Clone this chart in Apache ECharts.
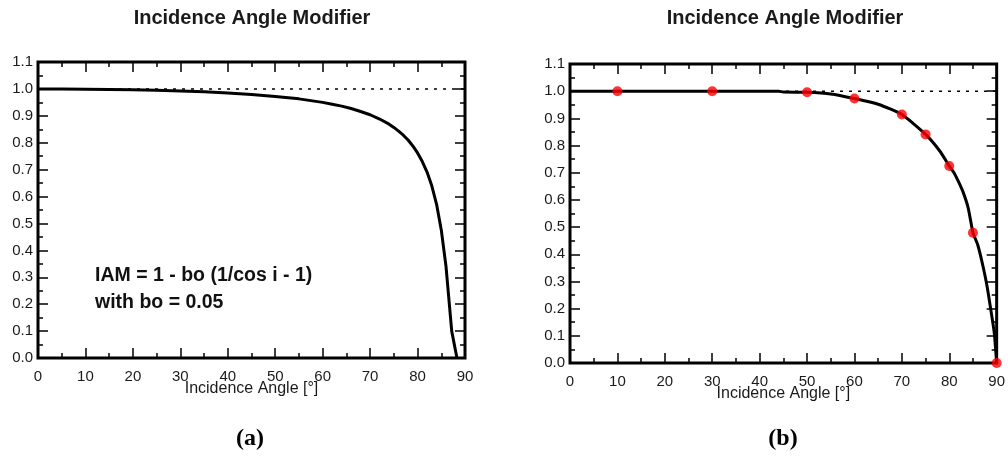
<!DOCTYPE html>
<html>
<head>
<meta charset="utf-8">
<script src="https://cdn.jsdelivr.net/npm/echarts@6/dist/echarts.min.js"></script>
<style>
html,body{margin:0;padding:0;background:#fff;}
#c{width:1008px;height:457px;}
</style>
</head>
<body>
<div id="c"></div>
<script>
// ---- data ----
const titleText = 'Incidence Angle Modifier';
const xAxisName = 'Incidence Angle [°]';
const panelLabels = ['(a)', '(b)'];
const formulaLines = ['IAM = 1 - bo (1/cos i - 1)', 'with bo = 0.05'];

const xTicks = [0, 10, 20, 30, 40, 50, 60, 70, 80, 90];
const yTicks = [0.0, 0.1, 0.2, 0.3, 0.4, 0.5, 0.6, 0.7, 0.8, 0.9, 1.0, 1.1];

// panel (a): IAM curve
const anglesA = [0, 5, 10, 15, 20, 25, 30, 35, 40, 45, 50, 55, 60, 62, 64, 66, 68, 70, 72, 74, 75, 76, 77, 78, 79, 80, 81, 82, 83, 84, 85, 86, 87.2, 88.3];
const iamA = [1.000, 1.000, 0.999, 0.998, 0.997, 0.995, 0.992, 0.989, 0.985, 0.979, 0.972, 0.963, 0.950, 0.943, 0.936, 0.927, 0.916, 0.904, 0.888, 0.869, 0.857, 0.843, 0.828, 0.810, 0.788, 0.762, 0.730, 0.691, 0.640, 0.572, 0.476, 0.340, 0.100, 0.000];

// panel (b): IAM curve and measured points
const anglesB = [0, 10, 20, 30, 40, 44, 45, 50, 55, 60, 65, 70, 75, 78, 80, 81, 82, 83, 84, 85, 86, 87, 88, 89, 89.5, 90];
const iamB = [1.000, 1.000, 1.000, 1.000, 1.000, 1.000, 0.997, 0.996, 0.990, 0.973, 0.952, 0.914, 0.841, 0.780, 0.725, 0.700, 0.665, 0.625, 0.570, 0.480, 0.435, 0.365, 0.280, 0.170, 0.110, 0.000];
const pointAngles = [10, 30, 50, 60, 70, 75, 80, 85, 90];
const pointIam = [1.000, 1.000, 0.996, 0.973, 0.914, 0.841, 0.725, 0.479, 0.000];

// reference level
const refLevel = 1.0;

// ---- chart ----
const FONT = "'Liberation Sans', Arial, sans-serif";
const zip = (a, b) => a.map((v, i) => [v, b[i]]);

const grids = [
  {left: 38, top: 62, width: 427, height: 296},
  {left: 570, top: 64, width: 427, height: 299}
];

const tickStyle = {
  axisLine: {show: false, onZero: false},
  axisTick: {show: true, inside: true, length: 10, lineStyle: {color: '#000', width: 1.5}},
  minorTick: {show: true, splitNumber: 2, length: 5, lineStyle: {color: '#000', width: 1.5}},
  splitLine: {show: false},
  minorSplitLine: {show: false}
};

function xAxes(gi) {
  const base = Object.assign({
    type: 'value', gridIndex: gi,
    min: xTicks[0], max: xTicks[xTicks.length - 1], interval: xTicks[1] - xTicks[0]
  }, tickStyle);
  return [
    Object.assign({}, base, {
      position: 'bottom',
      name: xAxisName, nameLocation: 'middle', nameGap: 23, nameMoveOverlap: false,
      nameTextStyle: {fontFamily: FONT, fontSize: 16, color: '#1a1a1a', verticalAlign: 'top'},
      axisLabel: {show: true, margin: 11, fontFamily: FONT, fontSize: 15, color: '#1a1a1a'}
    }),
    Object.assign({}, base, {position: 'top', axisLabel: {show: false}})
  ];
}
function yAxes(gi) {
  const base = Object.assign({
    type: 'value', gridIndex: gi,
    min: yTicks[0], max: yTicks[yTicks.length - 1], interval: 0.1
  }, tickStyle);
  return [
    Object.assign({}, base, {
      position: 'left',
      axisLabel: {show: true, margin: 5, fontFamily: FONT, fontSize: 15, color: '#1a1a1a',
        formatter: v => Number(v).toFixed(1)}
    }),
    Object.assign({}, base, {position: 'right', axisLabel: {show: false}})
  ];
}

const chart = echarts.init(document.getElementById('c'), null, {renderer: 'canvas'});

const dotted = {color: '#000', width: 1.5, type: [3, 6]};
const option = {
  animation: false,
  backgroundColor: '#fff',
  grid: grids.map(g => Object.assign({show: true, borderColor: '#000', borderWidth: 3, backgroundColor: 'transparent'}, g)),
  xAxis: [...xAxes(0), ...xAxes(1)],
  yAxis: [...yAxes(0), ...yAxes(1)],
  series: [
    {type: 'line', xAxisIndex: 0, yAxisIndex: 0, data: [[xTicks[0], refLevel], [xTicks[xTicks.length - 1], refLevel]],
      symbol: 'none', lineStyle: dotted, z: 1, silent: true},
    {type: 'line', xAxisIndex: 0, yAxisIndex: 0, data: zip(anglesA, iamA),
      symbol: 'none', lineStyle: {color: '#000', width: 3}, z: 2},
    {type: 'line', xAxisIndex: 2, yAxisIndex: 2, data: [[xTicks[0], refLevel], [xTicks[xTicks.length - 1], refLevel]],
      symbol: 'none', lineStyle: dotted, z: 1, silent: true},
    {type: 'line', xAxisIndex: 2, yAxisIndex: 2, data: zip(anglesB, iamB), smooth: 0.2,
      symbol: 'none', lineStyle: {color: '#000', width: 3}, z: 2},
    {type: 'scatter', xAxisIndex: 2, yAxisIndex: 2, data: zip(pointAngles, pointIam),
      symbol: 'circle', symbolSize: 10, itemStyle: {color: '#ff0000'}, clip: false, z: 3}
  ],
  graphic: [
    {type: 'text', style: {text: titleText, x: 252, y: 18, align: 'center', verticalAlign: 'middle',
      font: "bold 20px " + FONT, fill: '#1a1a1a'}, z: 10},
    {type: 'text', style: {text: titleText, x: 785, y: 18, align: 'center', verticalAlign: 'middle',
      font: "bold 20px " + FONT, fill: '#1a1a1a'}, z: 10},
    {type: 'text', style: {text: formulaLines[0], x: 95, y: 276, align: 'left', verticalAlign: 'middle',
      font: "bold 19.5px " + FONT, fill: '#111'}, z: 10},
    {type: 'text', style: {text: formulaLines[1], x: 95, y: 303, align: 'left', verticalAlign: 'middle',
      font: "bold 19.5px " + FONT, fill: '#111'}, z: 10},
    {type: 'text', style: {text: panelLabels[0], x: 250, y: 439, align: 'center', verticalAlign: 'middle',
      font: "bold 24px 'Liberation Serif', 'DejaVu Serif', serif", fill: '#000'}, z: 10},
    {type: 'text', style: {text: panelLabels[1], x: 783, y: 439, align: 'center', verticalAlign: 'middle',
      font: "bold 24px 'Liberation Serif', 'DejaVu Serif', serif", fill: '#000'}, z: 10}
  ]
};
chart.setOption(option);
</script>
</body>
</html>
